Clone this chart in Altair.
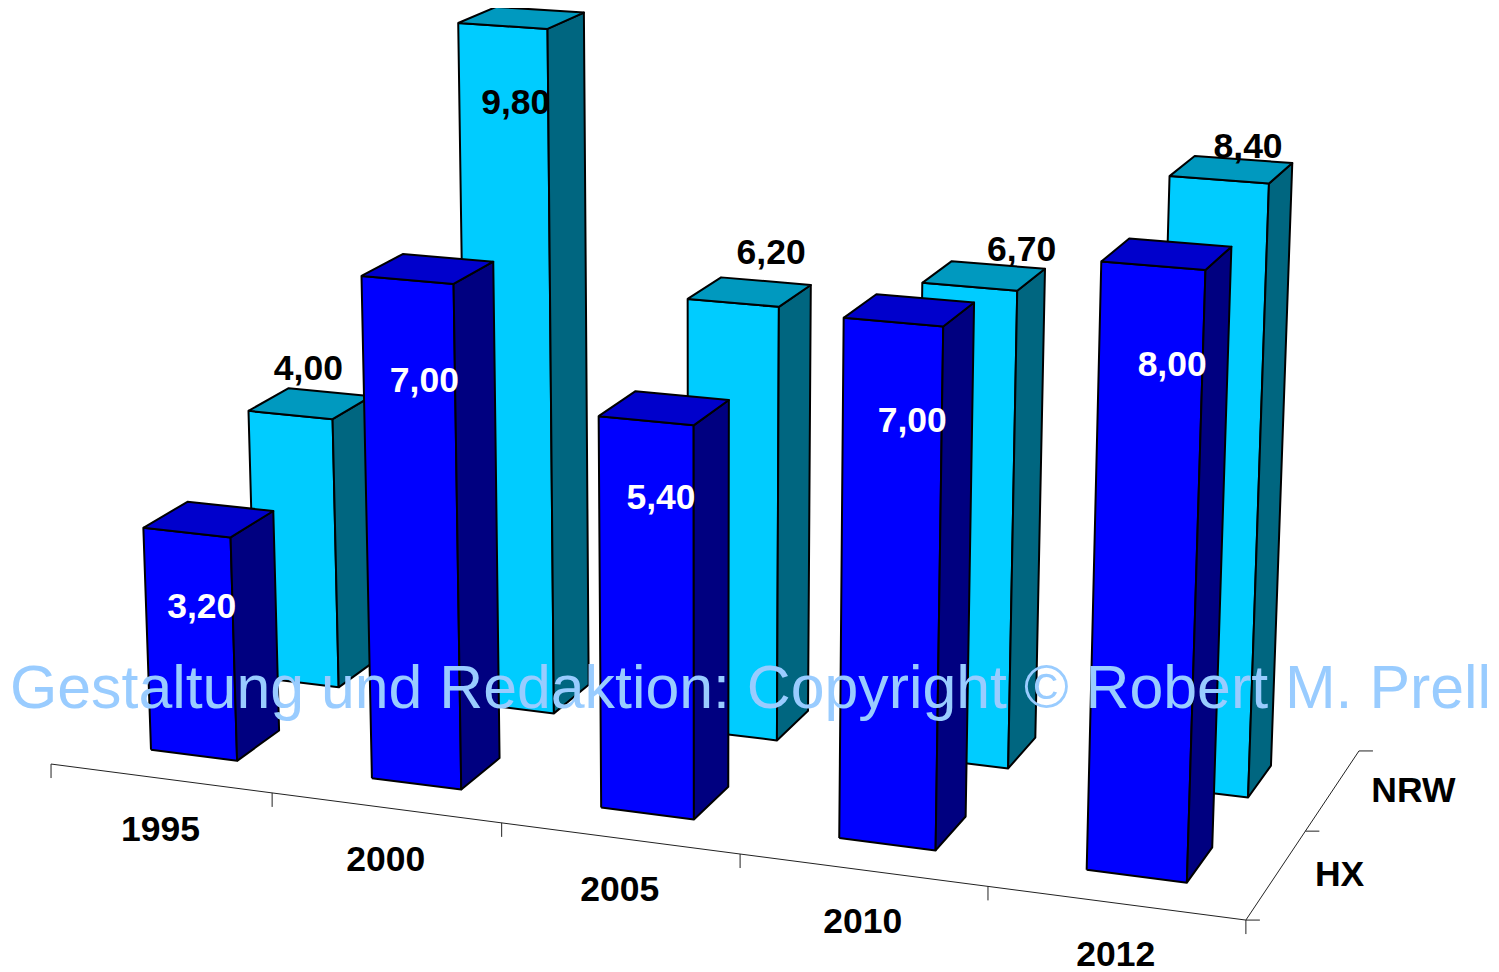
import altair as alt
import numpy as np
import pandas as pd

years = ["1995", "2000", "2005", "2010", "2012"]
series = ["HX", "NRW"]
hx_values = [3.2, 7.0, 5.4, 7.0, 8.0]
nrw_values = [4.0, 9.8, 6.2, 6.7, 8.4]
hx_labels = ["3,20", "7,00", "5,40", "7,00", "8,00"]
nrw_labels = ["4,00", "9,80", "6,20", "6,70", "8,40"]
watermark = "Gestaltung und Redaktion: Copyright © Robert M. Prell"

# Perspective camera: (category, series, value) -> picture position
CAMERA = np.append([2.1609676538e+02, 1.1850284858e+02, -3.0268741560e+00, 5.1046219366e+01,
                    1.4316010103e+01, -3.9693531081e+01, -7.2269458987e+01, 7.6403837700e+02,
                    -1.8357725957e-02, 4.9416071850e-02, -4.3020938624e-03], 1).reshape(3, 4)
BAR_X = (0.3057, 0.6998)
BAR_Y = (0.2975, 0.6993)


def project(x, y, z):
    h = CAMERA @ np.array([x, y, z, 1.0])
    return float(h[0] / h[2]), float(h[1] / h[2])


STYLE = {
    "HX": {"front": "#0000ff", "top": "#0000cc", "side": "#000080", "text": "white",
           "dx": [15, 17, 15, 19, 19], "dy": [74, 101, 77, 99, 99]},
    "NRW": {"front": "#00ccff", "top": "#0099bf", "side": "#006680", "text": "black",
            "dx": [18, 13, 38, 52, 29], "dy": [-46, 77, -50, -37, -33]},
}

faces, labels = [], []
n = 0
for s, name, vals, texts in ((1, "NRW", nrw_values, nrw_labels), (0, "HX", hx_values, hx_labels)):
    st = STYLE[name]
    for i, v in enumerate(vals):
        x0, x1 = i + BAR_X[0], i + BAR_X[1]
        y0, y1 = s + BAR_Y[0], s + BAR_Y[1]
        quads = {
            "front": [(x0, y0, 0), (x1, y0, 0), (x1, y0, v), (x0, y0, v)],
            "side": [(x1, y0, 0), (x1, y1, 0), (x1, y1, v), (x1, y0, v)],
            "top": [(x0, y0, v), (x1, y0, v), (x1, y1, v), (x0, y1, v)],
        }
        for face, q in quads.items():
            for k, p in enumerate(q + q[:1]):
                px, py = project(*p)
                faces.append(dict(face=f"f{n:03d}", k=k, px=px, py=py, fill=st[face]))
            n += 1
        ax, ay = project((x0 + x1) / 2, y0, v)
        labels.append(dict(px=ax + st["dx"][i], py=ay + st["dy"][i], t=texts[i], c=st["text"]))

axis_rows = []
def seg(name, a, b):
    for k, p in enumerate((a, b)):
        axis_rows.append(dict(seg=name, k=k, px=p[0], py=p[1]))

seg("front", project(0, 0, 0), project(5, 0, 0))
seg("depth", project(5, 0, 0), project(5, 2, 0))
TICK = 14
for i in range(6):
    px, py = project(i, 0, 0)
    seg(f"xt{i}", (px, py), (px, py + TICK))
for j in range(3):
    px, py = project(5, j, 0)
    seg(f"yt{j}", (px, py), (px + TICK, py))

axis_text = []
for i, y in enumerate(years):
    px, py = project(i + 0.5, 0, 0)
    axis_text.append(dict(px=px, py=py + 52, t=y))
series_text = []
for j, name in enumerate(series):
    px, py = project(5, j + 0.5, 0)
    series_text.append(dict(px=px + 38.5, py=py + 1, t=name))

W, H = 1483, 962
xs = alt.Scale(domain=[8, 8 + W], range=[0, W])
ys = alt.Scale(domain=[8 + H, 8], range=[H, 0])
X = alt.X("px:Q", scale=xs, axis=None)
Y = alt.Y("py:Q", scale=ys, axis=None)

FONT = "Liberation Sans"
axes = alt.Chart(pd.DataFrame(axis_rows)).mark_line(stroke="#222222", strokeWidth=1).encode(
    x=X, y=Y, detail="seg:N", order="k:Q")
bars = alt.Chart(pd.DataFrame(faces)).mark_line(stroke="black", strokeWidth=2, strokeJoin="round").encode(
    x=X, y=Y, detail="face:N", order="k:Q", fill=alt.Fill("fill:N", scale=None))
value_text = alt.Chart(pd.DataFrame(labels)).mark_text(
    font=FONT, fontSize=35.5, fontWeight="bold", align="center", baseline="middle").encode(
    x=X, y=Y, text="t:N", color=alt.Color("c:N", scale=None))
cat_text = alt.Chart(pd.DataFrame(axis_text)).mark_text(
    font=FONT, fontSize=35.5, fontWeight="bold", align="center", baseline="middle", color="black").encode(
    x=X, y=Y, text="t:N")
ser_text = alt.Chart(pd.DataFrame(series_text)).mark_text(
    font=FONT, fontSize=35.5, fontWeight="bold", align="left", baseline="middle", color="black").encode(
    x=X, y=Y, text="t:N")
mark = alt.Chart(pd.DataFrame([dict(px=10, py=708, t=watermark)])).mark_text(
    font=FONT, fontSize=60.8, align="left", baseline="alphabetic", color="#99ccff").encode(
    x=X, y=Y, text="t:N")

chart = alt.layer(axes, bars, value_text, cat_text, ser_text, mark).properties(
    width=W, height=H, padding=0, background="white",
    autosize=alt.AutoSizeParams(type="none"),
).configure_view(stroke=None)
chart.save("out.html", embed_options={"renderer": "svg", "actions": False})
